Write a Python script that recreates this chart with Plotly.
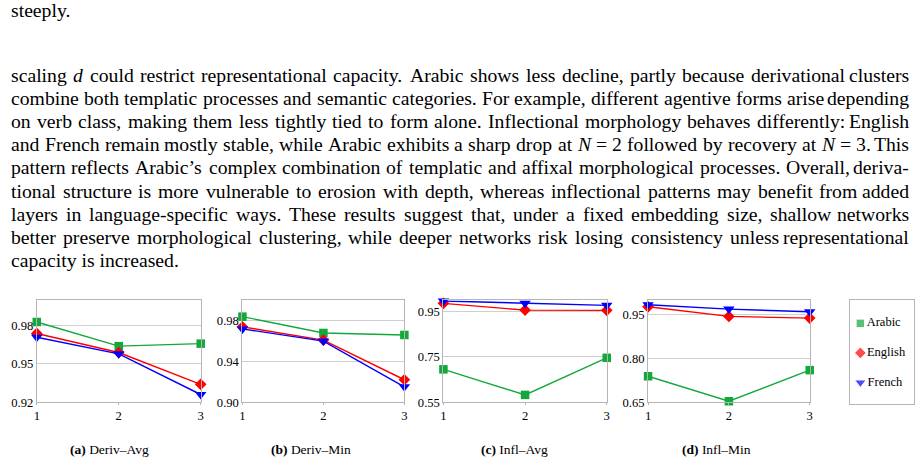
import plotly.graph_objects as go

FIG_W, FIG_H = 920, 463
SERIF = "Liberation Serif, Times New Roman, serif"

# ---- chart data ----
depth = [1, 2, 3]
languages = ["Arabic", "English", "French"]

deriv_avg_arabic = [0.983, 0.964, 0.966]
deriv_avg_english = [0.974, 0.959, 0.934]
deriv_avg_french = [0.971, 0.958, 0.926]

deriv_min_arabic = [0.984, 0.968, 0.966]
deriv_min_english = [0.974, 0.961, 0.922]
deriv_min_french = [0.972, 0.960, 0.915]

infl_avg_arabic = [0.695, 0.582, 0.746]
infl_avg_english = [0.987, 0.957, 0.956]
infl_avg_french = [0.997, 0.987, 0.978]

infl_min_arabic = [0.739, 0.653, 0.760]
infl_min_english = [0.978, 0.945, 0.939]
infl_min_french = [0.985, 0.970, 0.961]

panel_labels = ["(a)", "(b)", "(c)", "(d)"]
panel_titles = ["Deriv–Avg", "Deriv–Min", "Infl–Avg", "Infl–Min"]
y_ranges = [[0.92, 1.00], [0.90, 1.00], [0.55, 1.00], [0.65, 1.00]]
y_ticks = [[0.92, 0.95, 0.98], [0.90, 0.94, 0.98], [0.55, 0.75, 0.95], [0.65, 0.80, 0.95]]

# ---- page text ----
caption_tail = "steeply."
paragraph_lines = [
    "scaling <i>d</i> could restrict representational capacity. Arabic shows less decline, partly because derivational clusters",
    "combine both templatic processes and semantic categories. For example, different agentive forms arise depending",
    "on verb class, making them less tightly tied to form alone. Inflectional morphology behaves differently: English",
    "and French remain mostly stable, while Arabic exhibits a sharp drop at <i>N</i>\u00a0=\u00a02 followed by recovery at <i>N</i>\u00a0=\u00a03. This",
    "pattern reflects Arabic’s complex combination of templatic and affixal morphological processes. Overall, deriva-",
    "tional structure is more vulnerable to erosion with depth, whereas inflectional patterns may benefit from added",
    "layers in language-specific ways. These results suggest that, under a fixed embedding size, shallow networks",
    "better preserve morphological clustering, while deeper networks risk losing consistency unless representational",
]
paragraph_last = "capacity is increased."

panels = [
    [deriv_avg_arabic, deriv_avg_english, deriv_avg_french],
    [deriv_min_arabic, deriv_min_english, deriv_min_french],
    [infl_avg_arabic, infl_avg_english, infl_avg_french],
    [infl_min_arabic, infl_min_english, infl_min_french],
]

colors = ["#12a83c", "#ff0000", "#0000ff"]
symbols = ["square", "diamond", "triangle-down"]
sizes = [8.5, 9, 10]

# pixel boxes of the four plot areas and the legend
panel_x = [(34, 199), (241, 404), (443.3, 607.7), (649.3, 812)]
panel_top, panel_bottom = 305, 408.3
caption_x = [107, 310, 515, 718]
legend_box = (852.3, 916.7, 305, 410)


def px_x(v):
    return v / FIG_W


def px_y(v):
    return 1 - v / FIG_H


# Times widths (1/1000 em) used to justify the paragraph like LaTeX does
TIMES = dict(zip("abcdefghijklmnopqrstuvwxyz",
                 [444, 500, 444, 500, 444, 333, 500, 500, 278, 278, 500, 278, 778,
                  500, 500, 500, 500, 333, 389, 278, 500, 500, 722, 500, 500, 444]))
TIMES.update(zip("ABCDEFGHIJKLMNOPQRSTUVWXYZ",
                 [722, 667, 667, 722, 611, 556, 722, 722, 333, 389, 722, 611, 889,
                  722, 722, 556, 722, 667, 556, 611, 722, 722, 944, 722, 722, 611]))
TIMES.update({" ": 250, "\u00a0": 250, ".": 250, ",": 250, ":": 278, "-": 333,
              "’": 333, "=": 564, "–": 500})


def text_width(s, size):
    plain = s.replace("<i>", "").replace("</i>", "")
    return sum(TIMES.get(c, 500) for c in plain) * size / 1000


fig = go.Figure()
grid = "#cfcfcf"
frame = "#b5b5b5"

for i, series in enumerate(panels):
    n = i + 1
    xa, ya = f"x{n}", f"y{n}"
    for lang, vals, col, sym, sz in zip(languages, series, colors, symbols, sizes):
        fig.add_trace(go.Scatter(
            x=depth, y=vals, xaxis=xa, yaxis=ya, mode="lines+markers", name=lang,
            line=dict(color=col, width=1.4),
            marker=dict(symbol=sym, size=sz, color=col),
            cliponaxis=False, showlegend=False,
        ))
    x0, x1 = panel_x[i]
    fig.layout[f"xaxis{n}"] = dict(
        domain=[px_x(x0), px_x(x1)], anchor=ya, range=[1, 3],
        tickvals=depth, showgrid=False, zeroline=False,
        showline=True, linecolor=frame, mirror=True,
        ticks="outside", ticklen=2, tickcolor=frame,
        tickfont=dict(family=SERIF, size=12.6, color="black"),
    )
    fig.layout[f"yaxis{n}"] = dict(
        domain=[px_y(panel_bottom), px_y(panel_top)], anchor=xa, range=y_ranges[i],
        tickvals=y_ticks[i], tickformat=".2f", showgrid=True, gridcolor=grid,
        zeroline=False, showline=True, linecolor=frame, mirror=True, ticks="",
        tickfont=dict(family=SERIF, size=12.6, color="black"),
    )

# legend drawn on its own small axis
lx0, lx1, ly0, ly1 = legend_box
fig.add_trace(go.Scatter(
    x=[0] * len(languages), y=list(range(len(languages))), xaxis="x5", yaxis="y5",
    mode="markers+text", text=languages, textposition="middle right",
    textfont=dict(family=SERIF, size=12.5, color="black"),
    marker=dict(symbol=symbols, size=sizes, color=colors),
    cliponaxis=False, showlegend=False, hoverinfo="skip",
))
fig.layout["xaxis5"] = dict(domain=[px_x(lx0), px_x(lx1)], anchor="y5", range=[-1.66, 8.34],
                            showgrid=False, zeroline=False, showticklabels=False,
                            showline=True, linecolor=frame, mirror=True, ticks="")
fig.layout["yaxis5"] = dict(domain=[px_y(ly1), px_y(ly0)], anchor="x5", range=[2.723, -0.777],
                            showgrid=False, zeroline=False, showticklabels=False,
                            showline=True, linecolor=frame, mirror=True, ticks="")

annotations = []
for i in range(4):
    annotations.append(dict(
        text=f"<b>{panel_labels[i]}</b> {panel_titles[i]}",
        x=px_x(caption_x[i]), y=px_y(456), xref="paper", yref="paper",
        xanchor="center", yanchor="middle", showarrow=False, borderpad=0,
        font=dict(family=SERIF, size=13.5, color="black"),
    ))

BODY = 19.7
TEXT_L, TEXT_R = 7, 913
LINE0, LEAD = 76, 23.5


def add_text(s, xpx, ypx, anchor="left"):
    annotations.append(dict(
        text=s, x=px_x(xpx), y=px_y(ypx), xref="paper", yref="paper",
        xanchor=anchor, yanchor="middle", showarrow=False, borderpad=0,
        font=dict(family=SERIF, size=BODY, color="black"),
    ))


add_text(caption_tail, TEXT_L, 9.7)

for row, line in enumerate(paragraph_lines):
    words = line.split(" ")
    widths = [text_width(w, BODY) for w in words]
    gap = (TEXT_R - TEXT_L - sum(widths)) / (len(words) - 1)
    x = TEXT_L
    for k, (w, wd) in enumerate(zip(words, widths)):
        if k == len(words) - 1:
            add_text(w, TEXT_R, LINE0 + LEAD * row, anchor="right")
        else:
            add_text(w, x, LINE0 + LEAD * row)
        x += wd + gap

add_text(paragraph_last, TEXT_L, LINE0 + LEAD * len(paragraph_lines))

fig.update_layout(
    width=FIG_W, height=FIG_H,
    margin=dict(l=0, r=0, t=0, b=0),
    paper_bgcolor="white", plot_bgcolor="white",
    annotations=annotations,
    font=dict(family=SERIF, color="black"),
)

fig.write_html(
    "out.html",
    config={"displayModeBar": False},
    post_script="document.body.style.margin='0';document.body.style.overflow='hidden';",
)
